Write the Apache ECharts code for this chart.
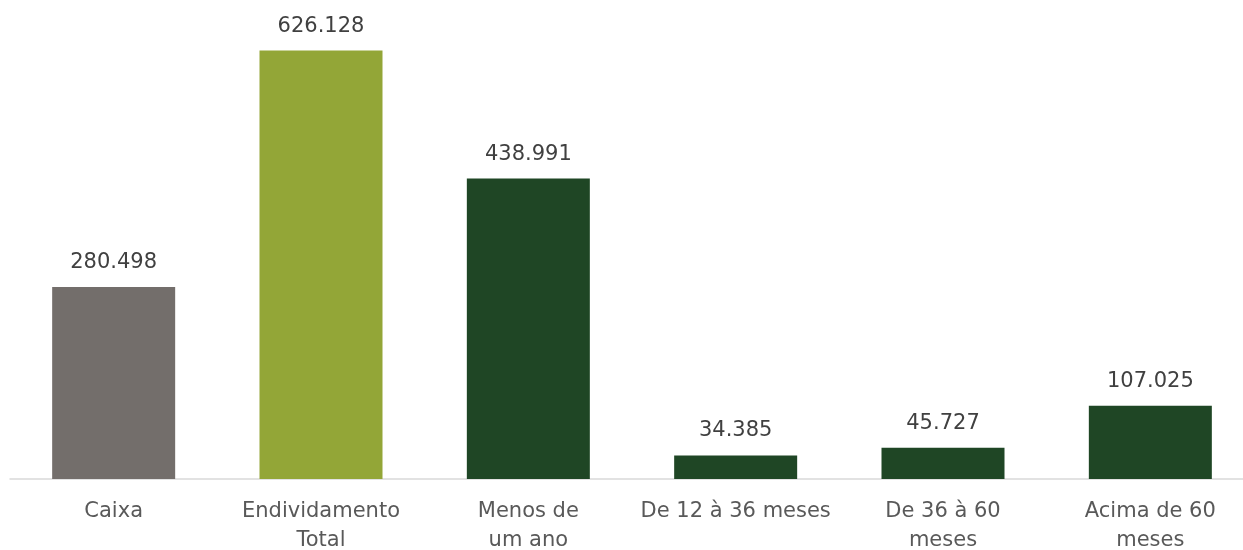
<!DOCTYPE html>
<html><head><meta charset="utf-8">
<script src="https://cdn.jsdelivr.net/npm/echarts@6/dist/echarts.min.js"></script>
<style>html,body{margin:0;padding:0;background:#fff;overflow:hidden}#c{width:1243px;height:550px}</style>
</head><body><div id="c"></div>
<script>
const categories = ["Caixa", "Endividamento\nTotal", "Menos de\num ano", "De 12 à 36 meses", "De 36 à 60\nmeses", "Acima de 60\nmeses"];
const values = [280.498, 626.128, 438.991, 34.385, 45.727, 107.025];
const colors = ["#736e6b", "#93a637", "#1f4625", "#1f4625", "#1f4625", "#1f4625"];

const chart = echarts.init(document.getElementById('c'));
chart.setOption({
  animation: false,
  grid: {left: 10, top: 0, width: 1244, bottom: 71, outerBoundsMode: 'none', containLabel: false},
  xAxis: {
    type: 'category', data: categories,
    axisLine: {lineStyle: {color: '#d9d9d9', width: 1.5}},
    axisTick: {show: false},
    axisLabel: {color: '#595959', fontFamily: 'DejaVu Sans', fontSize: 21, lineHeight: 29, margin: 18, interval: 0}
  },
  yAxis: {type: 'value', min: 0, max: 700, show: false, splitLine: {show: false}},
  series: [{
    type: 'bar', barWidth: 123,
    data: values.map((v, i) => ({value: v, itemStyle: {color: colors[i]}})),
    label: {show: true, position: 'top', distance: 14, color: '#404040', fontFamily: 'DejaVu Sans', fontSize: 21,
      formatter: p => p.value.toFixed(3)}
  }]
});
</script></body></html>
